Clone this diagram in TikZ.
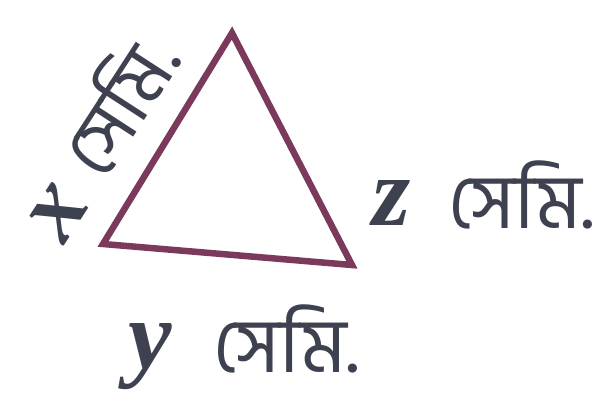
\documentclass[tikz,border=0pt]{standalone}
\usepackage{fontspec}
\newfontfamily\bnfont[Script=Bengali]{Hind Siliguri}
\newfontfamily\varfont{Liberation Serif}
\definecolor{edge}{HTML}{7B3A5C}
\definecolor{ink}{HTML}{3E4250}
\begin{document}
\begin{tikzpicture}[x=1pt,y=-1pt,
  lbl/.style={inner sep=0pt, text=ink},
  var/.style={lbl, font=\fontsize{98}{98}\selectfont\varfont\bfseries\itshape},
  unit/.style={lbl, font=\fontsize{77}{77}\selectfont\bnfont},
  side/.style={draw=edge, line width=6.5pt, line join=miter}]
\useasboundingbox (0,0) rectangle (603,414);
\coordinate (A) at (232,33);
\coordinate (B) at (103,244);
\coordinate (C) at (352,265);
\draw[side] (A) -- (B) -- (C) -- cycle;
\node[var, anchor=base west] (z) at (372,226) {z};
\node[unit, anchor=base west] (zu) at (448,229) {সেমি.};
\node[var, anchor=base west] (y) at (128,368) {y};
\node[unit, anchor=base west] (yu) at (213,372) {সেমি.};
\node[var, anchor=center, rotate=57] (x) at (59,213) {x};
\node[unit, anchor=center, rotate=57] (xu) at (116,103) {সেমি.};
\end{tikzpicture}
\end{document}
